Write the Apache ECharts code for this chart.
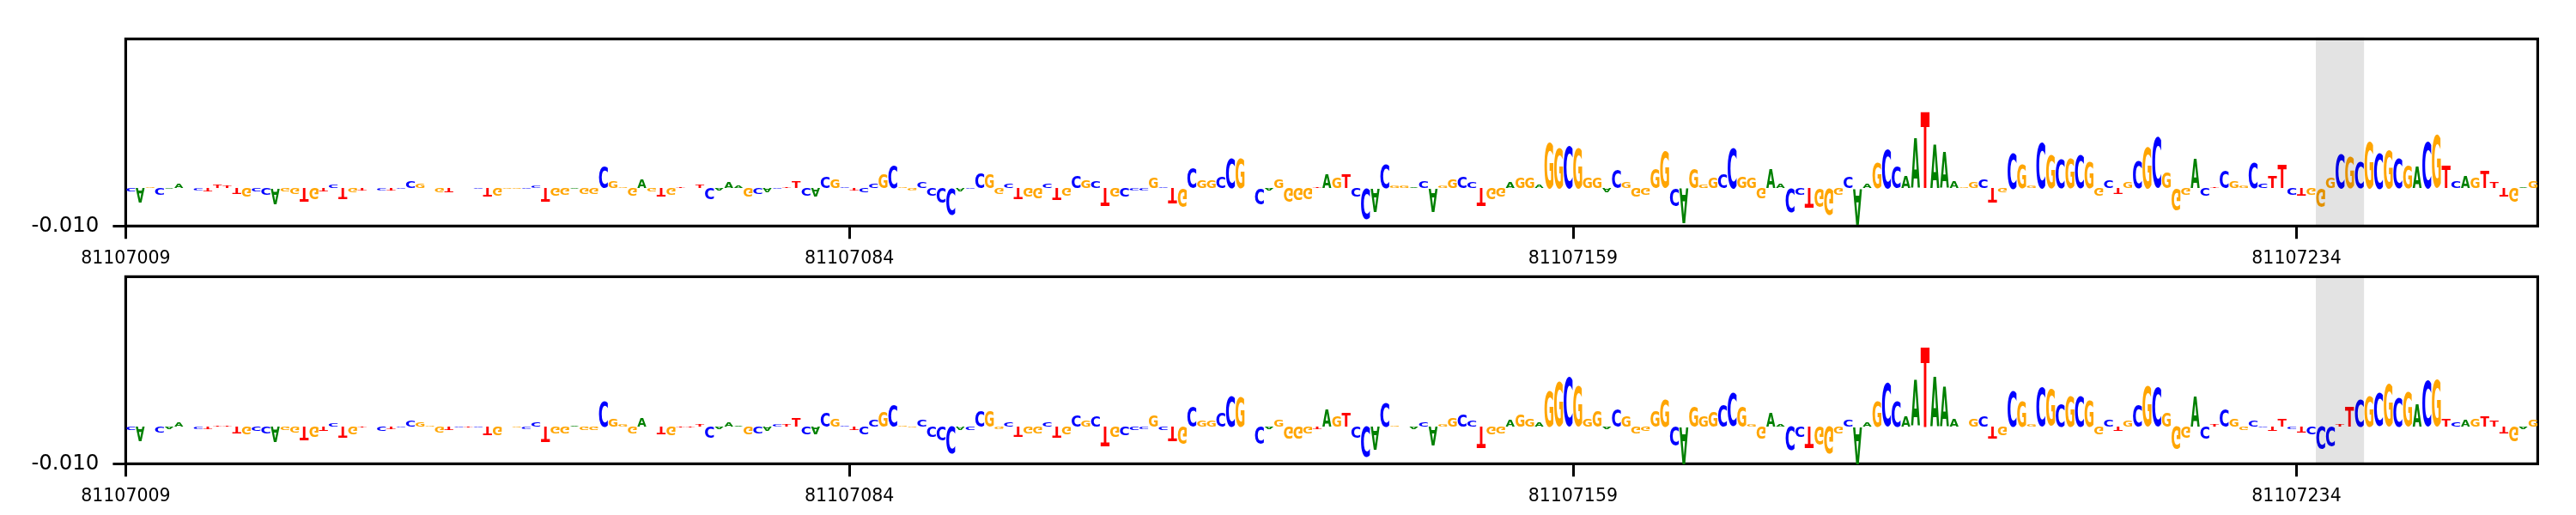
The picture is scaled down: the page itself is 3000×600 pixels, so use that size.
<!DOCTYPE html>
<html>
<head>
<meta charset="utf-8">
<style>html,body{margin:0;padding:0;background:#fff}#c{width:3000px;height:600px}</style>
<script src="https://cdn.jsdelivr.net/npm/echarts@6/dist/echarts.min.js"></script>
</head>
<body>
<div id="c"></div>
<script>
const lettersTop = ("CAGCAACCTT"+"TTGCCAGGTG"+"TCTGTCCTCC"+"GGGTCCCTGG"+"GCCTGGAGGC"+"GGGAGTGTTT"+"CAAAGCACTT"+"CACGCTCCGC"+"GGCCCCACCG"+"GCTGGCTGCG"+
"CTGCCCGCTG"+"CGGCCGCCAG"+"GGGTAGTCCA"+"CGGACAGGCC"+"TGGAGGAGGC"+"GGGACGGGGG"+"CAGGGCCGGG"+"AACCTGGGCA"+"AGCCAATAAA"+"GGCTGCGGCG"+
"CGCGGCTGCG"+"CGGGACTCGG"+"CCTTCTGGGC"+"GCGCGCGACG"+"TCAGTTTGAG").split("");
const lettersBottom = ("CAGCAACCTT"+"TTGCCAGGTG"+"TCTGTCCTCC"+"GGGTCTCTGG"+"GCCTGGAGGC"+"GGGAGTGTTT"+"CAAAGCACTT"+"CACGCTCCGC"+"GGCCCCACCG"+"GCTGGCTGCG"+
"CTGCCCGCTG"+"CGGCCGCCAG"+"GGGTAGTCCA"+"CGGACAGGCC"+"TGGAGGAGGC"+"GGGACGGGGG"+"CAGGGCCGGG"+"AACCTGGGCA"+"AGCCAATAAA"+"GGCTGCGGCG"+
"CGCGGCTGCG"+"CGGGACTCGG"+"CCTTCTCCCT"+"TCGCGCGACG"+"TCAGTTTGAG").split("");
// importance per position, in thousandths
const valuesTop = [
-1.0,-4.0,0.3,-1.8,-0.4,1.1,0.1,-0.5,-0.8,0.9,
0.7,-1.6,-2.5,-0.8,-1.9,-4.1,-0.8,-1.5,-3.6,-2.9,
-0.8,0.8,-3.0,-1.1,-0.6,0,-0.7,-0.6,-0.2,1.9,
1.1,0.1,-1.1,-1.1,-0.1,0,-0.4,-2.5,-2.1,-0.3,
-0.3,-0.3,0.7,-3.6,-2.1,-1.8,-0.4,-1.5,-1.5,5.7,
1.7,0.3,-2.1,2.3,-1.0,-2.4,-1.9,0.4,0,0.9,
-3.0,-0.7,1.5,0.5,-2.3,-1.5,-1.3,-0.3,0.3,1.7,
-2.0,-2.3,3.0,2.4,0.4,-0.5,-1.3,1.1,3.8,6.0,
0.3,-0.7,1.5,-2.2,-3.9,-7.0,-0.9,-0.3,3.9,3.5,
-1.4,1.2,-3.0,-2.5,-2.7,1.3,-3.4,-2.1,3.3,2.0,
1.7,-4.9,-2.5,-2.5,-0.7,-0.7,2.7,0.4,-4.3,-4.9,
5.5,2.0,2.0,3.0,7.9,7.9,0,-4.4,-0.7,2.3,
-3.6,-3.3,-2.9,0.2,3.6,2.8,3.7,-2.5,-8.2,-6.3,
6.5,0.5,0.7,0.3,1.8,-6.3,0.7,2.4,3.0,1.4,
-4.7,-3.0,-2.5,1.4,2.6,2.8,0.8,12.4,10.8,11.5,
10.6,2.6,2.6,-1.2,4.9,1.4,-2.3,-1.9,5.3,9.8,
-4.6,-9.2,5.1,0.9,2.8,3.8,10.6,3.0,2.6,-2.8,
5.1,1.3,-6.4,-1.9,-5.4,-4.8,-6.9,-1.7,3.0,-9.5,
1.3,6.6,10.4,5.8,3.3,13.3,20.5,11.7,9.5,1.7,
0.3,1.4,2.4,-3.8,-1.1,9.5,6.4,0.5,12.3,8.9,
7.7,7.9,8.9,7.2,-2.0,2.2,-1.4,1.6,7.3,11.1,
13.4,4.3,-5.9,-1.7,7.7,-2.1,0.3,4.7,1.7,0.5,
6.7,1.1,3.4,6.4,-1.9,-2.2,-1.7,-4.8,2.6,9.1,
8.7,7.0,12.7,9.6,10.2,8.1,6.1,5.8,12.7,14.2,
6.0,1.7,3.4,2.6,4.5,1.4,-2.5,-3.8,0.2,1.8];
const valuesBottom = [
-0.8,-3.8,0.1,-1.5,-0.6,1.3,0.1,-0.7,-0.7,0.3,
0.4,-1.8,-2.3,-1.1,-1.9,-4.1,-0.8,-1.5,-3.6,-2.8,
-1.3,0.9,-3.0,-2.0,-0.4,0,-1.1,-0.7,-0.3,1.6,
1.2,0.2,-1.4,-0.8,-0.4,-0.2,-0.4,-2.5,-2.5,0.1,
-0.4,-0.5,1.1,-4.1,-1.9,-1.8,0.2,-0.9,-0.9,6.8,
2.2,0.5,-1.9,2.4,0.1,-2.2,-2.6,-0.2,-0.2,0.6,
-3.0,-0.7,1.1,0.4,-2.1,-1.9,-1.3,0.7,0.5,2.5,
-2.1,-2.2,3.7,2.2,0.4,-0.8,-2.2,1.8,3.9,5.8,
0.4,-0.3,1.8,-2.8,-3.6,-7.6,-0.9,-0.9,4.2,4.2,
-0.7,1.3,-2.8,-1.9,-1.9,1.1,-3.0,-2.1,3.0,1.4,
2.9,-5.3,-2.8,-2.4,-0.8,-0.5,3.2,-0.9,-3.9,-4.8,
5.5,1.6,1.6,3.7,8.5,8.0,0.1,-4.5,-0.7,1.8,
-3.5,-3.5,-1.8,-0.7,4.5,2.8,3.7,-3.2,-8.4,-6.5,
6.6,0.3,0.1,-0.5,1.2,-5.2,0.7,2.4,3.4,1.6,
-5.8,-2.2,-1.8,1.9,3.3,2.2,1.2,9.8,12.2,13.3,
10.8,2.0,4.3,-0.5,4.8,2.9,-1.9,-1.1,4.3,7.6,
-5.2,-9.9,5.7,2.9,3.9,5.8,8.9,5.5,0.6,-3.5,
3.5,0.7,-6.5,-2.8,-5.8,-4.9,-7.5,-1.9,1.8,-9.9,
1.2,6.8,12.0,7.0,2.8,12.6,21.7,13.5,10.5,2.2,
0.1,2.2,2.8,-3.2,-2.5,9.7,6.8,0.6,10.5,9.9,
6.2,8.5,8.5,7.2,-2.1,1.8,-1.2,1.6,5.8,10.8,
10.7,3.6,-6.1,-3.0,8.2,-3.5,0.7,4.7,2.3,-0.8,
1.4,-0.4,-1.1,2.2,-0.5,-1.5,-2.2,-6.1,-5.5,0.6,
5.5,7.4,8.5,8.9,11.5,7.8,9.5,6.2,12.5,12.9,
2.1,1.1,1.8,2.2,2.6,1.6,-1.8,-3.9,-0.5,1.8];
const xTickValues = [0, 75, 150, 225];
const xTickLabels = ["81107009", "81107084", "81107159", "81107234"];
const yTickValues = [-0.01];
const yTickLabels = ["-0.010"];
const highlightRange = [227, 232];
const letterColors = {A: "#008000", C: "#0000ff", G: "#ffa500", T: "#ff0000"};

const FONT_FAMILY = '"DejaVu Sans"';
const GLYPH_FONT = 'bold 100px ' + FONT_FAMILY;
const LETTER_WIDTH = 0.93;
const metrics = {};
(function () {
  const ctx = document.createElement('canvas').getContext('2d');
  ctx.font = GLYPH_FONT;
  ctx.textAlign = 'left';
  ctx.textBaseline = 'middle';
  for (const l of 'ACGT') {
    const m = ctx.measureText(l);
    metrics[l] = {L: m.actualBoundingBoxLeft, R: m.actualBoundingBoxRight, A: m.actualBoundingBoxAscent, D: m.actualBoundingBoxDescent};
  }
})();

function logoSeries(letters, values, idx) {
  return {
    type: 'custom', xAxisIndex: idx, yAxisIndex: idx, z: 2, silent: true, clip: false,
    encode: {x: 0, y: 1},
    data: values.map((v, i) => [i, v / 1000]),
    renderItem(params, api) {
      const v = api.value(1);
      if (!v) return null;
      const i = api.value(0);
      const l = letters[params.dataIndex], m = metrics[l];
      const left = api.coord([i + 0.5 - LETTER_WIDTH / 2, 0]);
      const right = api.coord([i + 0.5 + LETTER_WIDTH / 2, v]);
      const sx = (right[0] - left[0]) / (m.L + m.R);
      const sy = (left[1] - right[1]) / (m.A + m.D);
      return {
        type: 'text', silent: true,
        x: left[0] + m.L * sx, y: left[1] - sy * m.D, scaleX: sx, scaleY: sy,
        style: {x: 0, y: 0, text: l, fill: letterColors[l], fontFamily: FONT_FAMILY, fontWeight: 'bold', fontSize: 100, align: 'left', verticalAlign: 'middle'}
      };
    }
  };
}
function bandSeries(idx) {
  return {
    type: 'custom', xAxisIndex: idx, yAxisIndex: idx, z: 3, silent: true, clip: false,
    encode: {x: [0, 1]},
    data: [[highlightRange[0], highlightRange[1]]],
    renderItem(params, api) {
      const box = params.coordSys;
      const a = api.coord([api.value(0), 0]);
      const b = api.coord([api.value(1), 0]);
      return {type: 'rect', shape: {x: a[0], y: box.y - 1.5, width: b[0] - a[0], height: box.height + 1.5}, style: {fill: 'rgba(0,0,0,0.11)'}};
    }
  };
}
const gridLayouts = [
  {left: 146.4, top: 45.3, width: 2809, height: 218},
  {left: 146.4, top: 322.3, width: 2809, height: 218}
];
const yMaxes = [0.0395, 0.04035];
const Y_MIN = -0.01;
const tickStyle = {show: true, length: 15, lineStyle: {color: '#000', width: 3}};

const option = {
  animation: false,
  backgroundColor: '#fff',
  grid: gridLayouts.map(g => Object.assign({show: true, borderColor: '#000', borderWidth: 3.2, backgroundColor: '#fff'}, g)),
  xAxis: gridLayouts.map((g, k) => ({
    type: 'value', gridIndex: k, min: 0, max: 250, position: 'bottom',
    axisLine: {show: false, onZero: false}, splitLine: {show: false},
    axisTick: Object.assign({customValues: xTickValues}, tickStyle),
    axisLabel: {customValues: xTickValues, margin: 28, color: '#000', fontSize: 20.5, fontFamily: FONT_FAMILY,
      formatter: v => xTickLabels[xTickValues.indexOf(v)]}
  })),
  yAxis: gridLayouts.map((g, k) => ({
    type: 'value', gridIndex: k, min: Y_MIN, max: yMaxes[k], position: 'left',
    axisLine: {show: false, onZero: false}, splitLine: {show: false},
    axisTick: Object.assign({customValues: yTickValues}, tickStyle),
    axisLabel: {customValues: yTickValues, margin: 31, padding: [4, 0, 0, 0], color: '#000', fontSize: 24.5, fontFamily: FONT_FAMILY,
      formatter: v => yTickLabels[yTickValues.indexOf(v)]}
  })),
  series: [
    logoSeries(lettersTop, valuesTop, 0),
    logoSeries(lettersBottom, valuesBottom, 1),
    bandSeries(0),
    bandSeries(1)
  ]
};
const chart = echarts.init(document.getElementById('c'), null, {renderer: 'canvas'});
chart.setOption(option);
</script>
</body>
</html>
